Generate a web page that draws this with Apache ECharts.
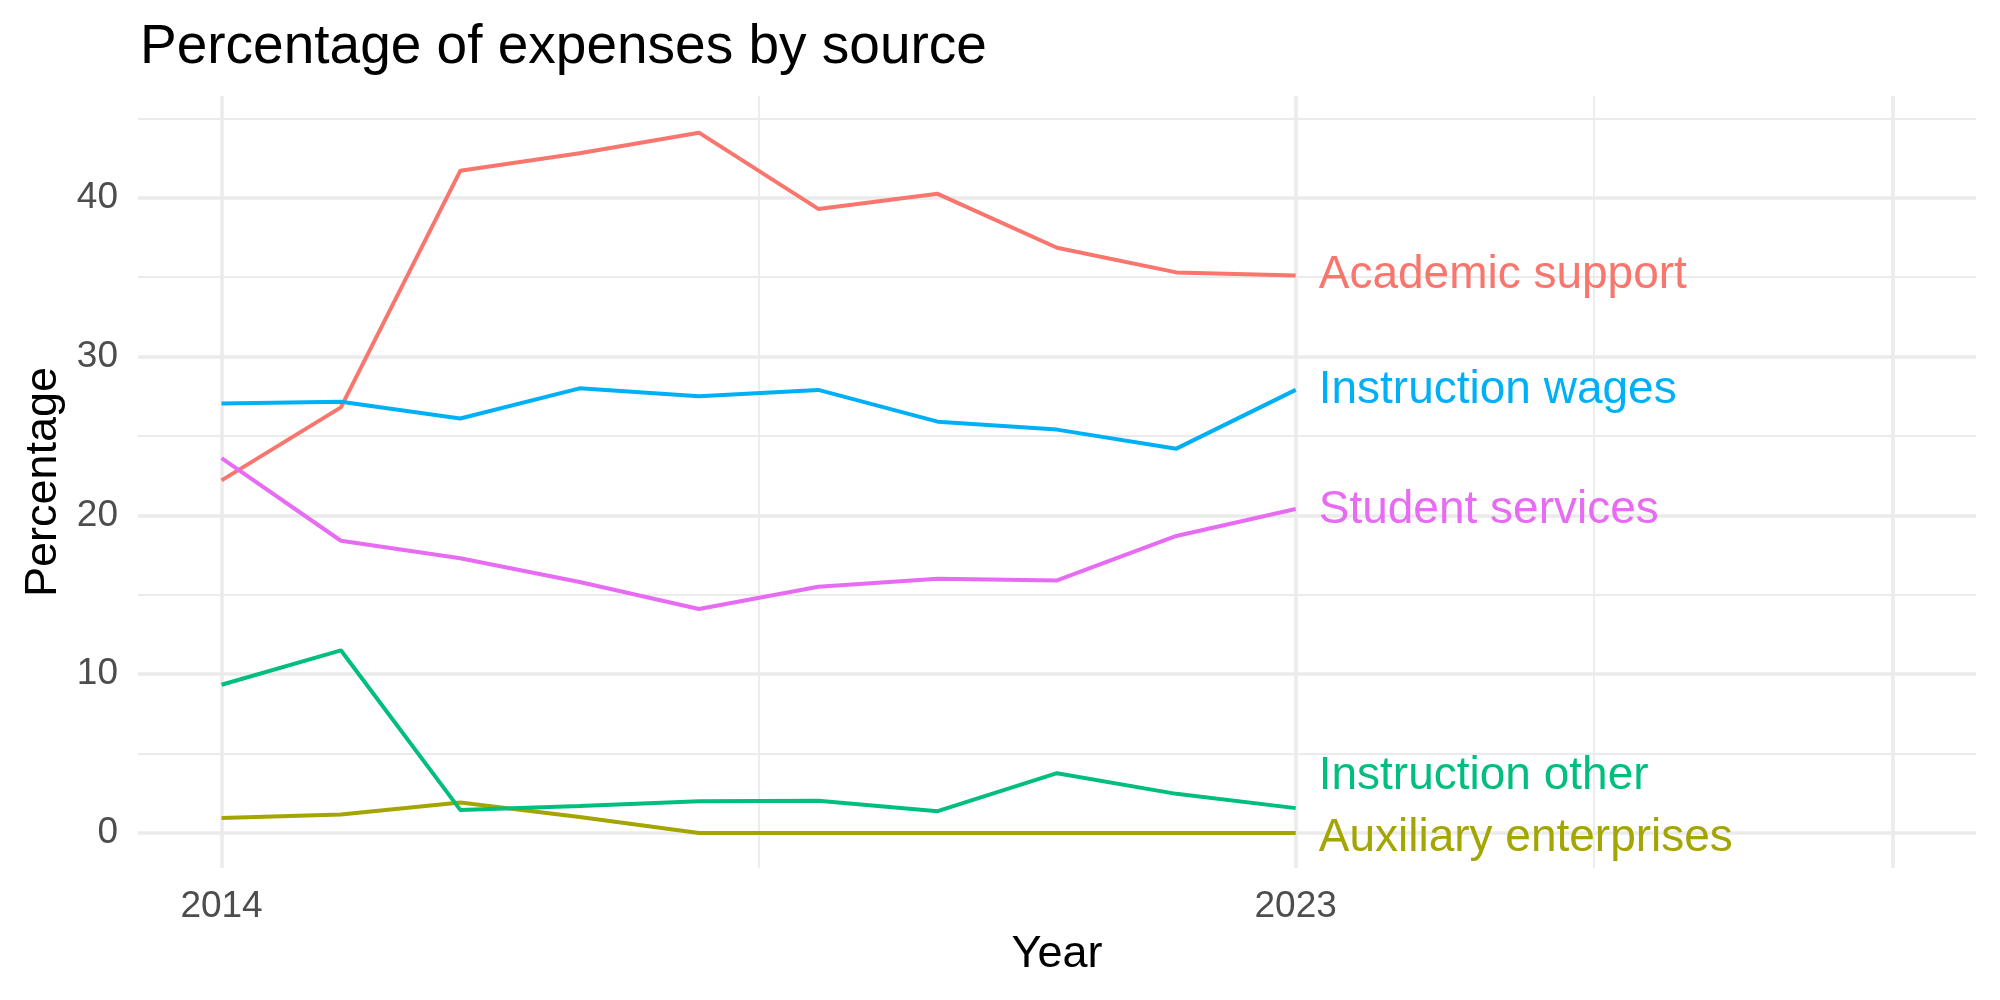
<!DOCTYPE html>
<html>
<head>
<meta charset="utf-8">
<script src="https://cdn.jsdelivr.net/npm/echarts@6/dist/echarts.min.js"></script>
<style>
  html, body { margin: 0; padding: 0; background: #fff; }
  #chart { width: 2000px; height: 1000px; }
</style>
</head>
<body>
<div id="chart"></div>
<script>
// data
const years = [2014, 2015, 2016, 2017, 2018, 2019, 2020, 2021, 2022, 2023];
const academicSupport = [22.2, 26.8, 41.7, 42.8, 44.1, 39.3, 40.25, 36.85, 35.3, 35.1];
const instructionWages = [27.05, 27.15, 26.1, 28.0, 27.5, 27.9, 25.9, 25.4, 24.2, 27.9];
const studentServices = [23.6, 18.4, 17.3, 15.8, 14.1, 15.5, 16.0, 15.9, 18.7, 20.4];
const instructionOther = [9.33, 11.5, 1.45, 1.7, 2.0, 2.03, 1.37, 3.76, 2.46, 1.56];
const auxiliaryEnterprises = [0.94, 1.16, 1.92, 1.0, 0, 0, 0, 0, 0, 0];

const xBreaks = [2014, 2023, 2028];
const xMinorBreaks = [2018.5, 2025.5];
const xTickLabels = [2014, 2023];
const yBreaks = [0, 10, 20, 30, 40];
const yMinorBreaks = [5, 15, 25, 35, 45];

const sources = [
    {name: "Academic support", values: academicSupport, color: "#F8766D", dy: 0},
    {name: "Auxiliary enterprises", values: auxiliaryEnterprises, color: "#A3A500", dy: 5},
    {name: "Instruction other", values: instructionOther, color: "#00BF7D", dy: -32},
    {name: "Instruction wages", values: instructionWages, color: "#00B0F6", dy: 0},
    {name: "Student services", values: studentServices, color: "#E76BF3", dy: 1}
];

const font = "Liberation Sans, Arial, Helvetica, sans-serif";
const gridColor = "#EBEBEB";

function gridLines(values, key, width) {
    return values.map(function (v) {
        let d = {lineStyle: {width: width, color: gridColor, type: "solid"}};
        d[key] = v;
        return d;
    });
}

let series = [{
    type: "line",
    data: [],
    z: 1,
    silent: true,
    markLine: {
        silent: true,
        z: 1,
        symbol: ["none", "none"],
        label: {show: false},
        emphasis: {disabled: true},
        animation: false,
        data: []
            .concat(gridLines(yMinorBreaks, "yAxis", 1.8))
            .concat(gridLines(xMinorBreaks, "xAxis", 1.8))
            .concat(gridLines(yBreaks, "yAxis", 3.6))
            .concat(gridLines(xBreaks, "xAxis", 3.6))
    }
}];

sources.forEach(function (s) {
    series.push({
        name: s.name,
        type: "line",
        z: 3,
        symbol: "none",
        animation: false,
        data: years.map(function (y, i) { return [y, s.values[i]]; }),
        lineStyle: {color: s.color, width: 4},
        itemStyle: {color: s.color},
        endLabel: {
            show: true,
            formatter: s.name,
            color: s.color,
            fontFamily: font,
            fontSize: 46,
            distance: 23,
            offset: [0, s.dy]
        }
    });
});

const chart = echarts.init(document.getElementById("chart"), null, {renderer: "canvas"});
chart.setOption({
    animation: false,
    backgroundColor: "#fff",
    title: {
        text: "Percentage of expenses by source",
        left: 135,
        top: 15,
        textStyle: {fontFamily: font, fontSize: 55, fontWeight: "normal", color: "#000"}
    },
    grid: {left: 138, right: 24, top: 96, bottom: 132, containLabel: false},
    xAxis: {
        type: "value",
        min: 2013.3,
        max: 2028.7,
        name: "Year",
        nameLocation: "middle",
        nameGap: 64,
        nameTextStyle: {fontFamily: font, fontSize: 45, color: "#000"},
        axisLine: {show: false},
        axisTick: {show: false},
        splitLine: {show: false},
        axisLabel: {
            customValues: xTickLabels,
            formatter: function (v) { return String(v); },
            fontFamily: font,
            fontSize: 37,
            color: "#4D4D4D",
            margin: 20
        }
    },
    yAxis: {
        type: "value",
        min: -2.21,
        max: 46.41,
        name: "Percentage",
        nameLocation: "middle",
        nameGap: 72,
        nameTextStyle: {fontFamily: font, fontSize: 45, color: "#000"},
        axisLine: {show: false},
        axisTick: {show: false},
        splitLine: {show: false},
        axisLabel: {
            customValues: yBreaks,
            formatter: function (v) { return String(v); },
            fontFamily: font,
            fontSize: 37,
            color: "#4D4D4D",
            margin: 20
        }
    },
    series: series
});
</script>
</body>
</html>
